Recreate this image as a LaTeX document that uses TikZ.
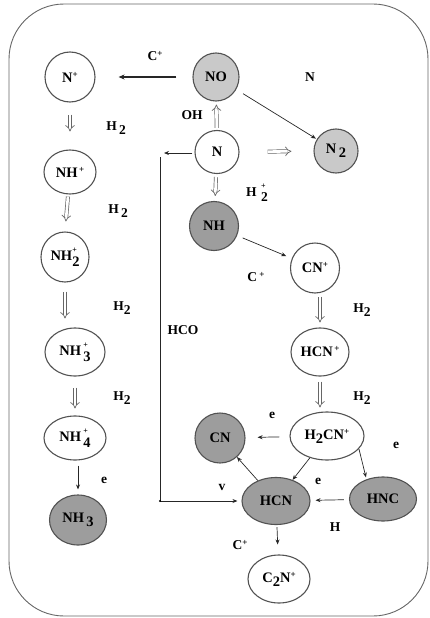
\documentclass[tikz,border=0pt]{standalone}
\usepackage{fontspec}
\setmainfont{Liberation Serif}
\usetikzlibrary{arrows.meta, positioning, shapes.geometric}
\definecolor{litgray}{HTML}{C9C9C9}
\definecolor{drkgray}{HTML}{9D9D9D}
\newcommand\chsub[1]{\raisebox{-0.6ex}{#1}}
\newcommand\chsup[1]{\raisebox{0.75ex}{\small #1}}
\newcommand\chstack[2]{\rlap{\raisebox{1.3ex}{\footnotesize #1}}\raisebox{-0.85ex}{#2}}

\begin{document}
\begin{tikzpicture}[x=1pt, y=-1pt,
    every node/.style={font=\bfseries\fontsize{13.5}{15}\selectfont},
    mol/.style={ellipse, draw=black!68, line width=1.1pt, inner sep=0pt,
      font=\bfseries\fontsize{14.5}{16}\selectfont},
    litmol/.style={mol, fill=litgray},
    drkmol/.style={mol, fill=drkgray},
    rxn/.style={-{Stealth[length=5pt, width=4pt]}, line width=0.7pt, draw=black!85},
    fatrxn/.style={rxn, line width=1.4pt, -{Stealth[length=6pt, width=5pt]}},
    hollow/.style={double=white, double distance=2.6pt, line width=0.7pt,
      -{Implies}, draw=black!60},
    lbl/.style={inner sep=1pt}
  ]
  \useasboundingbox (0,0) rectangle (429,618);
  \draw[black!60, line width=0.9pt, rounded corners=55pt] (9,4) rectangle (428,616);

  % left chain
  \node[mol, minimum width=50pt, minimum height=50pt] (Np) at (70,77) {N\chsup{+}};
  \node[mol, minimum width=52pt, minimum height=44pt] (NHp) at (70,172) {NH\chsup{\,+}};
  \node[mol, minimum width=48pt, minimum height=50pt] (NH2p) at (65,257) {NH\chstack{+}{2}};
  \node[mol, minimum width=60pt, minimum height=48pt] (NH3p) at (75,352) {NH\,\chstack{+}{3}};
  \node[mol, minimum width=62pt, minimum height=44pt] (NH4p) at (75,438) {NH\,\chstack{+}{4}};
  \node[drkmol, minimum width=57pt, minimum height=50pt] (NH3) at (78,520) {NH\,\chsub{3}};

  % centre and right
  \node[litmol, minimum width=46pt, minimum height=48pt] (NO) at (216,77) {NO};
  \node[mol, minimum width=44pt, minimum height=43pt] (N) at (217,152) {N};
  \node[litmol, minimum width=44pt, minimum height=44pt] (N2) at (336,151) {N\,\chsub{2}};
  \node[drkmol, minimum width=49pt, minimum height=49pt] (NH) at (214,226) {NH};
  \node[mol, minimum width=49pt, minimum height=50pt] (CNp) at (315,268) {CN\chsup{+}};
  \node[mol, minimum width=58pt, minimum height=48pt] (HCNp) at (320,352) {HCN\chsup{\,+}};
  \node[mol, minimum width=74pt, minimum height=48pt] (H2CNp) at (327,436) {H\chsub{2}CN\chsup{+}};
  \node[drkmol, minimum width=50pt, minimum height=50pt] (CN) at (220,438) {CN};
  \node[drkmol, minimum width=67pt, minimum height=44pt] (HNC) at (383,499) {HNC};
  \node[drkmol, minimum width=68pt, minimum height=47pt] (HCN) at (276,501) {HCN};
  \node[mol, minimum width=62pt, minimum height=48pt] (C2Np) at (279,579) {C\chsub{2}N\chsup{+}};

  % labels
  \node[lbl] (lCa) at (155,56) {C\chsup{+}};
  \node[lbl] (lN) at (310,77) {N};
  \node[lbl] (lOH) at (192,115) {OH};
  \node[lbl] (lH2p) at (257,193) {H\,\,\chstack{+}{2}};
  \node[lbl] (lH2a) at (116,128) {H\,\chsub{2}};
  \node[lbl] (lH2b) at (118,211) {H\,\chsub{2}};
  \node[lbl] (lH2c) at (122,308) {H\chsub{2}};
  \node[lbl] (lH2d) at (122,398) {H\chsub{2}};
  \node[lbl] (le1) at (104,480) {e};
  \node[lbl] (lHCO) at (183,330) {HCO};
  \node[lbl] (lCb) at (256,277) {C\,\chsup{+}};
  \node[lbl] (lH2e) at (362,310) {H\chsub{2}};
  \node[lbl] (lH2f) at (362,398) {H\chsub{2}};
  \node[lbl] (le2) at (272,415) {e};
  \node[lbl] (le3) at (396,445) {e};
  \node[lbl] (le4) at (318,481) {e};
  \node[lbl] (lv) at (222,487) {v};
  \node[lbl] (lH) at (335,527) {H};
  \node[lbl] (lCc) at (240,545) {C\chsup{+}};

  % hollow steps
  \draw[hollow, shorten <=12pt, shorten >=18pt] (Np) -- (NHp);
  \draw[hollow, shorten <=2pt, shorten >=10pt] (NHp) -- (NH2p |- NH2p.north);
  \draw[hollow, shorten <=9pt, shorten >=9pt] (NH2p) -- (NH2p |- NH3p.north);
  \draw[hollow, shorten <=11pt, shorten >=7pt] (NH3p) -- (NH4p);
  \draw[hollow, shorten <=2pt, shorten >=3pt] (N) -- (NO);
  \draw[hollow, shorten <=3pt, shorten >=5pt] (N) -- (NH);
  \draw[hollow, shorten <=28pt, shorten >=22pt] (N.east) -- (N2.west);
  \draw[hollow, shorten <=3pt, shorten >=5pt] (CNp.south -| HCNp) -- (HCNp);
  \draw[hollow, shorten <=5pt, shorten >=4pt] (HCNp) -- (HCNp |- H2CNp.north);

  % reactions
  \draw[fatrxn, shorten <=16pt, shorten >=23pt] (NO) -- (Np);
  \draw[rxn, shorten <=8pt, shorten >=1pt] (NO) -- (N2);
  \coordinate (jn) at (164,153);
  \coordinate (jt) at (160,157);
  \draw[rxn, shorten <=2pt] (N.west |- jn) -- (jn);
  \draw[rxn, shorten >=4pt] (jt) |- (HCN.west);
  \fill (jt |- HCN.west) circle (1.2pt);
  \draw[rxn, shorten <=6pt, shorten >=6pt] (NH) -- (CNp);
  \draw[rxn, shorten <=10pt, shorten >=12pt] (H2CNp) -- (CN);
  \draw[rxn, shorten >=2pt] (H2CNp.-22) -- (HNC.130);
  \draw[rxn, shorten <=5pt, shorten >=5pt] (HNC) -- (HCN);
  \draw[rxn] (HCN) -- (CN);
  \draw[rxn] (H2CNp) -- (HCN);
  \draw[rxn, shorten <=2pt, shorten >=10pt] (HCN) -- (C2Np);
  \draw[rxn, shorten <=5pt, shorten >=5pt] (NH4p.south -| NH3) -- (NH3);
\end{tikzpicture}
\end{document}
